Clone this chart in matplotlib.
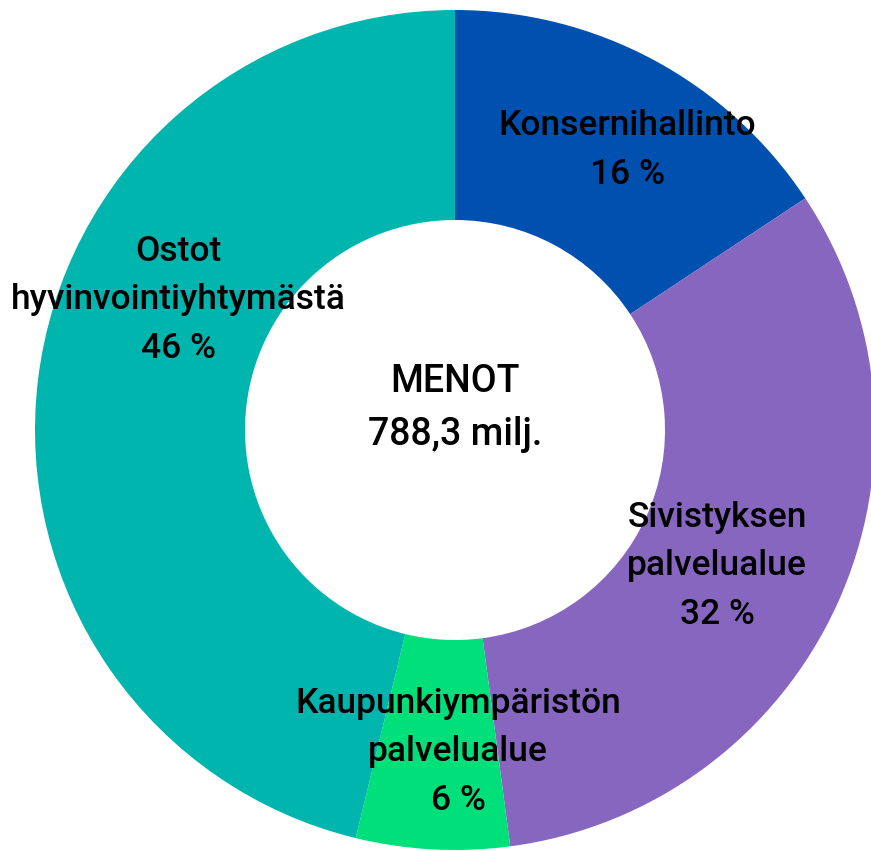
import matplotlib.pyplot as plt

labels = ["Konsernihallinto", "Sivistyksen\npalvelualue",
          "Kaupunkiympäristön\npalvelualue", "Ostot\nhyvinvointiyhtymästä"]
shares = [15.7, 32.2, 5.9, 46.2]
pct_text = ["16 %", "32 %", "6 %", "46 %"]
colors = ["#0050AF", "#8766C0", "#00E07A", "#00B5AD"]
center_text = "MENOT\n788,3 milj."

# label centres (pixel coords in the 871x851 image)
label_pos = [(627, 150), (717, 566), (458, 752), (178, 300)]

plt.rcParams["font.family"] = ["Roboto", "DejaVu Sans"]

fig = plt.figure(figsize=(8.71, 8.51), dpi=100)
ax = fig.add_axes([0, 0, 1, 1])

cx, cy, r = 455, 430, 420
ax.pie(shares, colors=colors, startangle=90, counterclock=False,
       radius=1, wedgeprops=dict(width=0.5, linewidth=0))

ax.set_xlim((0 - cx) / r, (871 - cx) / r)
ax.set_ylim((cy - 851) / r, (cy - 0) / r)
ax.set_aspect("auto")
ax.axis("off")

for lab, pct, (px, py) in zip(labels, pct_text, label_pos):
    ax.text((px - cx) / r, (cy - py) / r, lab + "\n" + pct,
            ha="center", va="center", fontsize=25.5, color="black",
            fontweight="medium", linespacing=1.6)

ax.text(0, (cy - 408) / r, center_text, ha="center", va="center",
        fontsize=27, color="black", fontweight="medium", linespacing=1.55)

fig.savefig("out.png", dpi=100)
